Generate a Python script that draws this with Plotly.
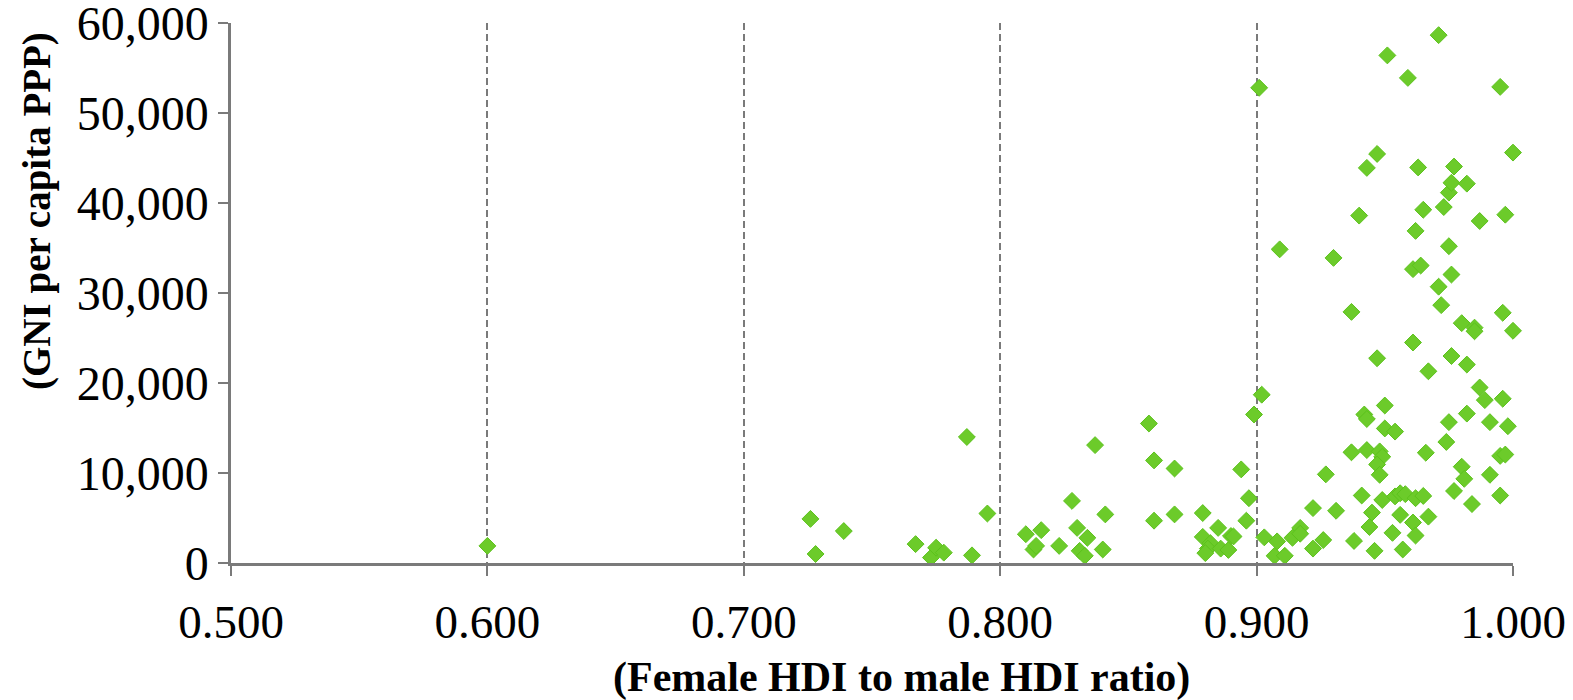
import plotly.graph_objects as go

# Female HDI to male HDI ratio
hdi_ratio = [
    0.600,
    0.726, 0.728, 0.739, 0.767, 0.773, 0.775, 0.778, 0.787, 0.789, 0.795,
    0.810, 0.816, 0.813, 0.814, 0.823, 0.828, 0.830, 0.834, 0.831, 0.833,
    0.837, 0.841, 0.840,
    0.858, 0.860, 0.868, 0.860, 0.868, 0.879, 0.885, 0.879, 0.882, 0.881,
    0.880, 0.886, 0.889, 0.890, 0.891, 0.894, 0.897, 0.896, 0.899, 0.902,
    0.903, 0.908, 0.907, 0.911, 0.914, 0.917, 0.917, 0.922, 0.922, 0.926,
    0.927, 0.901, 0.909,
    0.931, 0.937, 0.941, 0.938, 0.942, 0.943, 0.950, 0.943, 0.948, 0.949,
    0.947, 0.948, 0.950, 0.954, 0.945, 0.944, 0.946, 0.949, 0.954, 0.956,
    0.958, 0.962, 0.965, 0.956, 0.961, 0.967, 0.953, 0.962, 0.957, 0.966,
    0.974, 0.975, 0.977, 0.980, 0.981, 0.982, 0.984, 0.987, 0.989, 0.991,
    0.991, 0.995, 0.996, 0.998, 0.995, 0.997,
    0.940, 0.930, 0.965, 0.973, 0.975, 0.987, 0.997, 0.962, 0.975, 0.961,
    0.964, 0.976, 0.971, 0.972, 0.937, 0.996, 0.980, 0.985, 0.985, 1.000,
    0.961, 0.947, 0.976, 0.982, 0.967,
    0.971, 0.951, 0.959, 0.995, 1.000, 0.947, 0.943, 0.963, 0.977, 0.976,
    0.982,
]

# GNI per capita PPP
gni = [
    1900,
    4900, 1000, 3550, 2100, 600, 1700, 1150, 14000, 850, 5500,
    3200, 3650, 1500, 1900, 1900, 6900, 3900, 2800, 1350, 800,
    13100, 5400, 1500,
    15500, 11400, 10500, 4700, 5400, 5550, 3900, 2900, 2200, 1600,
    1100, 1600, 1450, 3000, 2950, 10400, 7200, 4700, 16500, 18700,
    2850, 2400, 800, 800, 2800, 3900, 3250, 6100, 1600, 2550,
    9850, 52800, 34850,
    5800, 12300, 7500, 2450, 16500, 16000, 17500, 12550, 12400, 11800,
    10950, 9800, 14950, 14600, 5600, 4000, 1350, 7000, 7400, 7750,
    7650, 7200, 7450, 5350, 4500, 5150, 3350, 3050, 1500, 12250,
    13450, 15650, 8000, 10700, 9350, 16600, 6550, 19500, 18100, 15650,
    9800, 7500, 18250, 15200, 11900, 12050,
    38600, 33900, 39250, 39550, 41150, 38000, 38700, 36900, 35200, 32650,
    33050, 32050, 30700, 28650, 27900, 27800, 26650, 26150, 25750, 25800,
    24500, 22750, 23000, 22050, 21300,
    58650, 56400, 53900, 52900, 45600, 45450, 43900, 43950, 44050, 42250,
    42150,
]

x_ticks = [0.5, 0.6, 0.7, 0.8, 0.9, 1.0]
y_ticks = [0, 10000, 20000, 30000, 40000, 50000, 60000]
x_title = "(Female HDI to male HDI ratio)"
y_title = "(GNI per capita PPP)"

fig = go.Figure()
fig.add_trace(go.Scatter(
    x=hdi_ratio, y=gni, mode="markers",
    marker=dict(symbol="diamond", size=13, color="#6CCB2A",
                line=dict(color="#5CC21C", width=1)),
    showlegend=False, cliponaxis=False,
))

serif = "Liberation Serif, Times New Roman, serif"
grid_col = "#7a7a7a"

fig.update_layout(
    width=1573, height=700,
    paper_bgcolor="white", plot_bgcolor="white",
    margin=dict(l=223, r=68, t=15, b=145, autoexpand=False),
    font=dict(family=serif, color="black"),
    xaxis=dict(
        range=[0.5, 1.0], tickvals=x_ticks, tickformat=".3f",
        showgrid=True, gridcolor=grid_col, griddash="7px,4px", gridwidth=2,
        showline=True, linecolor=grid_col, linewidth=2.5,
        ticks="outside", ticklen=10, tickcolor=grid_col, tickwidth=2,
        tickfont=dict(size=47, family=serif), zeroline=False,
        ticklabelstandoff=6, ticklabeloverflow="allow", automargin=False,
    ),
    yaxis=dict(
        range=[0, 60000], tickvals=y_ticks, tickformat=",",
        showgrid=False, zeroline=False,
        showline=True, linecolor=grid_col, linewidth=2.5,
        ticks="outside", ticklen=10, tickcolor=grid_col, tickwidth=2,
        tickfont=dict(size=48, family=serif),
        ticklabeloverflow="allow", automargin=False,
    ),
    annotations=[
        dict(text="<b>" + x_title + "</b>", xref="paper", yref="paper",
             x=0.523, y=-0.212, showarrow=False,
             font=dict(size=42, family=serif, color="black"),
             xanchor="center", yanchor="middle"),
        dict(text="<b>" + y_title + "</b>", xref="paper", yref="paper",
             x=-0.1513, y=0.652, showarrow=False, textangle=-90,
             font=dict(size=39, family=serif, color="black"),
             xanchor="center", yanchor="middle"),
    ],
)

fig.write_html("out.html")
